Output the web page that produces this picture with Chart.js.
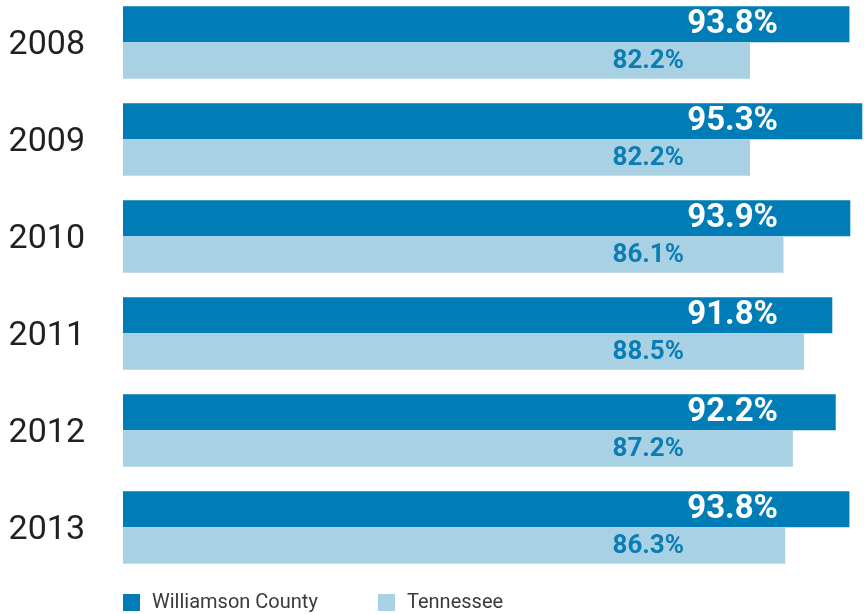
<!DOCTYPE html>
<html>
<head>
<meta charset="utf-8">
<script src="https://cdn.jsdelivr.net/npm/chart.js@4"></script>
<style>
  html, body { margin: 0; padding: 0; background: #fff; overflow: hidden; }
  #wrap { position: absolute; left: 0; top: -6px; width: 864px; height: 620px; }
  #legend { position: absolute; top: 589px; left: 123px; font-family: Roboto, sans-serif; font-size: 20px; color: #3a3a3a; }
  #legend span.item { position: absolute; white-space: nowrap; }
  #legend i { display: inline-block; width: 17px; height: 17px; vertical-align: -3px; margin-right: 12px; }
</style>
</head>
<body>
<div id="wrap"><canvas id="chart"></canvas></div>
<div id="legend"></div>
<script>
//Datos del gráfico
const anios = ["2008", "2009", "2010", "2011", "2012", "2013"];
const williamson = [93.8, 95.3, 93.9, 91.8, 92.2, 93.8];
const tennessee = [82.2, 82.2, 86.1, 88.5, 87.2, 86.3];
const series = ["Williamson County", "Tennessee"];
const colores = ["#007db6", "#a8d1e4"];

//Etiquetas dentro de las barras (posición fija desde la derecha)
const etiquetas = {
  id: "etiquetas",
  afterDatasetsDraw(chart) {
    const ctx = chart.ctx;
    const right = chart.chartArea.right;
    ctx.save();
    ctx.textAlign = "right";
    ctx.textBaseline = "middle";
    chart.data.datasets.forEach((ds, i) => {
      const meta = chart.getDatasetMeta(i);
      meta.data.forEach((bar, j) => {
        if (i === 0) {
          ctx.font = "bold 33px Roboto";
          ctx.fillStyle = "#ffffff";
          ctx.fillText(ds.data[j].toFixed(1) + "%", right - 86, bar.y + 1);
        } else {
          ctx.font = "bold 26px Roboto";
          ctx.fillStyle = "#0a7db5";
          ctx.fillText(ds.data[j].toFixed(1) + "%", right - 180, bar.y + 1);
        }
      });
    });
    ctx.restore();
  }
};

const ctx = document.getElementById("chart").getContext("2d");
const chart = new Chart(ctx, {
  type: "bar",
  data: {
    labels: anios,
    datasets: [
      { label: series[0], data: williamson, backgroundColor: colores[0] },
      { label: series[1], data: tennessee, backgroundColor: colores[1] }
    ]
  },
  options: {
    indexAxis: "y",
    responsive: true,
    maintainAspectRatio: false,
    animation: false,
    categoryPercentage: 0.753,
    barPercentage: 0.985,
    layout: { padding: { top: 0, right: 0, bottom: 38, left: 0 } },
    plugins: {
      legend: { display: false },
      tooltip: { enabled: false }
    },
    scales: {
      x: {
        display: false,
        min: 9,
        max: 95.5
      },
      y: {
        grid: { display: false, drawTicks: false },
        border: { display: false },
        ticks: {
          padding: 38,
          labelOffset: 3,
          color: "#231f20",
          font: { family: "Roboto", size: 34 }
        },
        afterFit(scale) {
          scale.width = 123;
          scale.paddingTop = 0;
          scale.paddingBottom = 0;
        }
      }
    }
  },
  plugins: [etiquetas]
});

//Leyenda en HTML
const legend = document.getElementById("legend");
const posiciones = [0, 255];
series.forEach((s, i) => {
  const el = document.createElement("span");
  el.className = "item";
  el.style.left = posiciones[i] + "px";
  el.innerHTML = `<i style="background:${colores[i]}"></i>${s}`;
  legend.appendChild(el);
});
</script>
</body>
</html>
